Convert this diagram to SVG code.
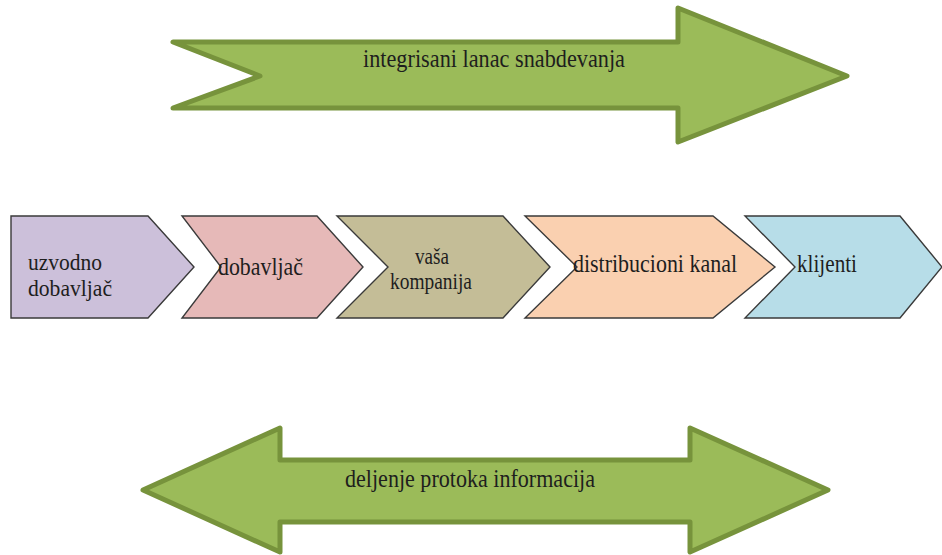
<svg xmlns="http://www.w3.org/2000/svg" width="942" height="555" viewBox="0 0 942 555">
  <style>
    .band { fill: #9BBB59; stroke: #77933C; stroke-width: 5; stroke-linejoin: round; }
    .step { stroke: #3a3a3a; stroke-width: 1.4; stroke-linejoin: miter; }
    .lbl { fill: #1e1e1e; font-size: 26px; font-family: "Liberation Serif", "Times New Roman", serif; }
    .sm { font-size: 23px; }
  </style>
  <rect width="942" height="555" fill="#ffffff"/>

  <!-- top band: integrated supply chain -->
  <g id="integrisani-lanac">
    <polygon class="band" points="173,42 678,42 678,8 847,76 678,142 678,108 173,108 260,76"/>
    <text class="lbl" x="363" y="67" textLength="262" lengthAdjust="spacingAndGlyphs">integrisani lanac snabdevanja</text>
  </g>

  <!-- chain of steps -->
  <g id="uzvodno-dobavljac">
    <polygon class="step" fill="#CCC0DA" points="11,216 148,216 194,267 148,318 11,318"/>
    <text class="lbl sm" x="28" y="270" textLength="74" lengthAdjust="spacingAndGlyphs">uzvodno</text>
    <text class="lbl sm" x="28" y="296" textLength="84" lengthAdjust="spacingAndGlyphs">dobavljač</text>
  </g>
  <g id="dobavljac">
    <polygon class="step" fill="#E6B9B8" points="182,216 317,216 363,267 317,318 182,318 221,267"/>
    <text class="lbl" x="218" y="275" textLength="85" lengthAdjust="spacingAndGlyphs">dobavljač</text>
  </g>
  <g id="vasa-kompanija">
    <polygon class="step" fill="#C4BD97" points="337,216 503,216 550,267 503,318 337,318 388,267"/>
    <text class="lbl sm" x="415" y="264" textLength="34" lengthAdjust="spacingAndGlyphs">vaša</text>
    <text class="lbl sm" x="390" y="289" textLength="82" lengthAdjust="spacingAndGlyphs">kompanija</text>
  </g>
  <g id="distribucioni-kanal">
    <polygon class="step" fill="#FAD0B0" points="525,216 713,216 775,267 713,318 525,318 577,267"/>
    <text class="lbl" x="573" y="272" textLength="164" lengthAdjust="spacingAndGlyphs">distribucioni kanal</text>
  </g>
  <g id="klijenti">
    <polygon class="step" fill="#B7DDE8" points="745,216 900,216 942,267 900,318 745,318 795,267"/>
    <text class="lbl" x="797" y="272" textLength="60" lengthAdjust="spacingAndGlyphs">klijenti</text>
  </g>

  <!-- bottom band: shared information flow -->
  <g id="deljenje-informacija">
    <polygon class="band" points="143,490 280,428 280,460 690,460 690,428 828,490 690,552 690,522 280,522 280,552"/>
    <text class="lbl" x="345" y="487" textLength="250" lengthAdjust="spacingAndGlyphs">deljenje protoka informacija</text>
  </g>

  <g id="connectors"></g>
</svg>
